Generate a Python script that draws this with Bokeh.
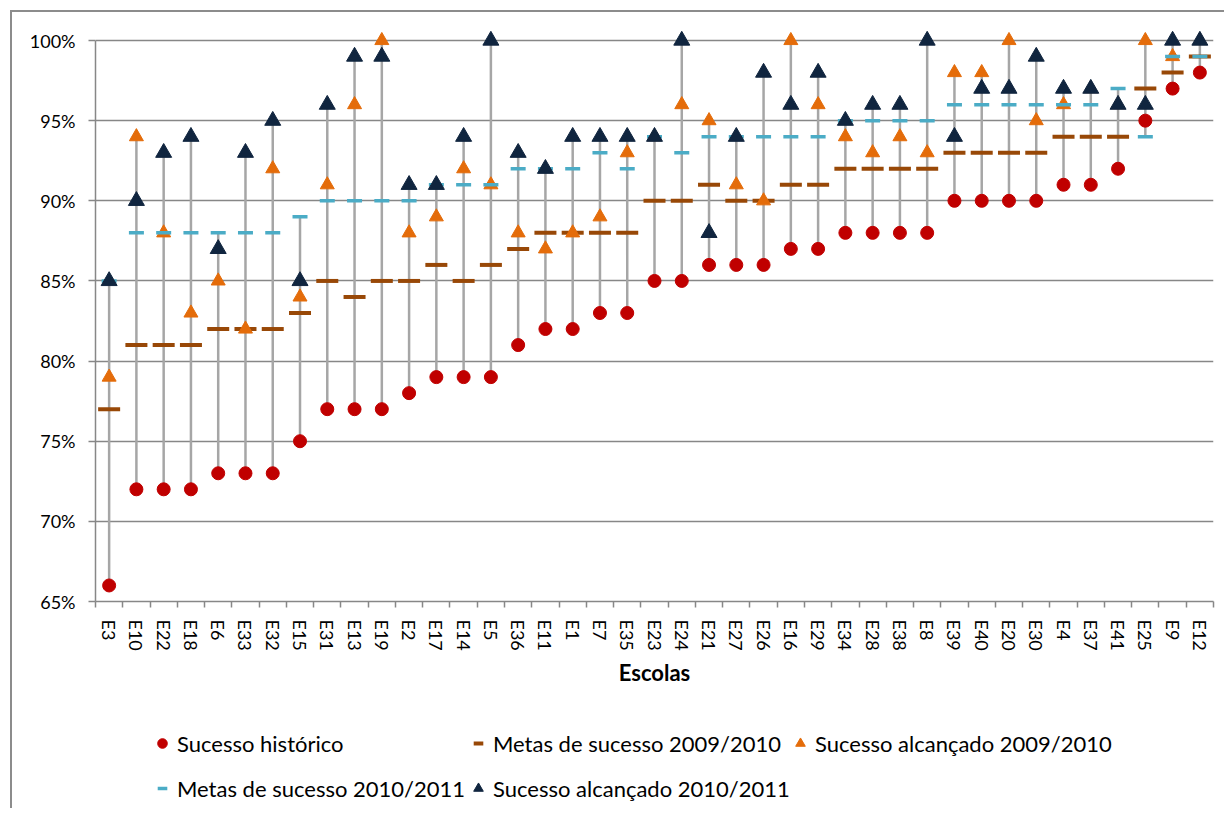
import numpy as np
from bokeh.plotting import figure
from bokeh.layouts import column
from bokeh.models import (ColumnDataSource, Div, FixedTicker, Legend, LegendItem,
                          PrintfTickFormatter, Range1d)
from bokeh.embed import file_html
from bokeh.resources import INLINE

escolas = ["E3", "E10", "E22", "E18", "E6", "E33", "E32", "E15", "E31", "E13",
           "E19", "E2", "E17", "E14", "E5", "E36", "E11", "E1", "E7", "E35",
           "E23", "E24", "E21", "E27", "E26", "E16", "E29", "E34", "E28", "E38",
           "E8", "E39", "E40", "E20", "E30", "E4", "E37", "E41", "E25", "E9", "E12"]

sucesso_historico = [66, 72, 72, 72, 73, 73, 73, 75, 77, 77,
                     77, 78, 79, 79, 79, 81, 82, 82, 83, 83,
                     85, 85, 86, 86, 86, 87, 87, 88, 88, 88,
                     88, 90, 90, 90, 90, 91, 91, 92, 95, 97, 98]

metas_2009_2010 = [77, 81, 81, 81, 82, 82, 82, 83, 85, 84,
                   85, 85, 86, 85, 86, 87, 88, 88, 88, 88,
                   90, 90, 91, 90, 90, 91, 91, 92, 92, 92,
                   92, 93, 93, 93, 93, 94, 94, 94, 97, 98, 99]

alcancado_2009_2010 = [79, 94, 88, 83, 85, 82, 92, 84, 91, 96,
                       100, 88, 89, 92, 91, 88, 87, 88, 89, 93,
                       94, 96, 95, 91, 90, 100, 96, 94, 93, 94,
                       93, 98, 98, 100, 95, 96, 97, 96, 100, 99, 100]

metas_2010_2011 = [85, 88, 88, 88, 88, 88, 88, 89, 90, 90,
                   90, 90, 91, 91, 91, 92, 92, 92, 93, 92,
                   94, 93, 94, 94, 94, 94, 94, 95, 95, 95,
                   95, 96, 96, 96, 96, 96, 96, 97, 94, 99, 99]

alcancado_2010_2011 = [85, 90, 93, 94, 87, 93, 95, 85, 96, 99,
                       99, 91, 91, 94, 100, 93, 92, 94, 94, 94,
                       94, 100, 88, 94, 98, 96, 98, 95, 96, 96,
                       100, 94, 97, 97, 99, 97, 97, 96, 96, 100, 100]

y_ticks = [65, 70, 75, 80, 85, 90, 95, 100]

labels = ["Sucesso histórico", "Metas de sucesso 2009/2010",
          "Sucesso alcançado 2009/2010", "Metas de sucesso 2010/2011",
          "Sucesso alcançado 2010/2011"]

FONT = "Lato"
GRAY = "#878787"
BORDER = "#8c8c8c"

STYLES = {
    "hist": dict(marker="circle", size=13, fill_color="#C00000", line_color="#C00000"),
    "m1": dict(marker="dash", size=22, line_color="#984807", line_width=4),
    "a1": dict(marker="triangle", size=14, fill_color="#E46C0A", line_color="#E46C0A"),
    "m2": dict(marker="dash", size=15, line_color="#4BACC6", line_width=3.5),
    "a2": dict(marker="triangle", size=16, fill_color="#10253F", line_color="#10253F"),
}

n = len(escolas)
xs = np.arange(n)
allv = np.vstack([sucesso_historico, metas_2009_2010, alcancado_2009_2010,
                  metas_2010_2011, alcancado_2010_2011])
src = ColumnDataSource(dict(
    x=xs,
    hist=sucesso_historico,
    m1=metas_2009_2010,
    a1=alcancado_2009_2010,
    m2=metas_2010_2011,
    a2=alcancado_2010_2011,
    lo=allv.min(axis=0),
    hi=allv.max(axis=0),
))

W = 1224
LEFT_LINE = {"background": f"linear-gradient({BORDER}, {BORDER}) 10px 0px / 2px 100% no-repeat"}

# thin strip carrying the top edge of the chart-area frame
top = Div(width=W, height=12, margin=0,
          styles={"background": (f"linear-gradient({BORDER}, {BORDER}) 10px 10px / "
                                 f"calc(100% - 10px) 2px no-repeat")},
          text="")

p = figure(width=W, height=706, output_backend="svg", toolbar_location=None,
           x_range=Range1d(-0.5, n - 0.5), y_range=Range1d(65, 101),
           min_border_left=95, min_border_right=11, min_border_top=12,
           min_border_bottom=117)
p.border_fill_color = None
p.background_fill_color = "white"
p.outline_line_color = None
p.styles = LEFT_LINE

# high-low lines
p.segment(x0="x", y0="lo", x1="x", y1="hi", source=src,
          line_color="#A6A6A6", line_width=2.5)

for key in ["hist", "m1", "a1", "m2", "a2"]:
    p.scatter("x", key, source=src, **STYLES[key])

# x axis
xa = p.xaxis[0]
xa.ticker = FixedTicker(ticks=list(range(n)),
                        minor_ticks=[i - 0.5 for i in range(n + 1)])
xa.major_label_overrides = {i: e for i, e in enumerate(escolas)}
xa.major_label_orientation = "vertical"
xa.major_tick_out = 0
xa.major_tick_in = 0
xa.minor_tick_out = 6
xa.minor_tick_in = 0
xa.minor_tick_line_color = GRAY
xa.minor_tick_line_width = 1.5
xa.axis_line_color = GRAY
xa.axis_line_width = 1.5
xa.major_label_text_font = FONT
xa.major_label_text_font_size = "18px"
xa.major_label_text_color = "black"
xa.major_label_standoff = 12
xa.axis_label = "Escolas"
xa.axis_label_text_font = FONT
xa.axis_label_text_font_style = "bold"
xa.axis_label_text_font_size = "22px"
xa.axis_label_text_color = "black"
xa.axis_label_standoff = 5

# y axis
ya = p.yaxis[0]
ya.ticker = FixedTicker(ticks=y_ticks, minor_ticks=[])
ya.formatter = PrintfTickFormatter(format="%d%%")
ya.bounds = (65, 100)
ya.major_tick_out = 7
ya.major_tick_in = 0
ya.major_tick_line_color = GRAY
ya.major_tick_line_width = 1.5
ya.axis_line_color = GRAY
ya.axis_line_width = 1.5
ya.major_label_text_font = FONT
ya.major_label_text_font_size = "18px"
ya.major_label_text_color = "black"
ya.major_label_standoff = 13

p.xgrid.visible = False
p.ygrid.ticker = FixedTicker(ticks=y_ticks)
p.ygrid.grid_line_color = GRAY
p.ygrid.grid_line_width = 1.5

# legend panel (separate figure below the chart; same data, kept out of view)
lh = 90
q = figure(width=W, height=lh, output_backend="svg", toolbar_location=None,
           x_range=Range1d(-1000, -999), y_range=Range1d(-1000, -999),
           x_axis_type=None, y_axis_type=None,
           min_border_left=0, min_border_right=0, min_border_top=0,
           min_border_bottom=0)
q.border_fill_color = None
q.background_fill_color = None
q.outline_line_color = None
q.grid.visible = False
q.styles = LEFT_LINE
leg_r = {key: q.scatter("x", key, source=src, **STYLES[key])
         for key in ["hist", "m1", "a1", "m2", "a2"]}


def make_legend(items, loc):
    lg = Legend(items=items, location=loc, orientation="vertical",
                label_text_font=FONT, label_text_font_size="22px",
                label_text_color="black", glyph_width=24, glyph_height=30,
                label_standoff=3, spacing=15, padding=0, margin=0,
                border_line_color=None, background_fill_alpha=0,
                label_text_baseline="middle")
    q.add_layout(lg, "center")
    return lg


make_legend([LegendItem(label=labels[0], renderers=[leg_r["hist"]], index=0),
             LegendItem(label=labels[3], renderers=[leg_r["m2"]], index=0)], (55, 5))
make_legend([LegendItem(label=labels[1], renderers=[leg_r["m1"]], index=0),
             LegendItem(label=labels[4], renderers=[leg_r["a2"]], index=0)], (371, 5))
make_legend([LegendItem(label=labels[2], renderers=[leg_r["a1"]], index=0)], (693, 50))

layout = column(top, p, q, spacing=0)
open("out.html", "w").write(file_html(layout, INLINE))
